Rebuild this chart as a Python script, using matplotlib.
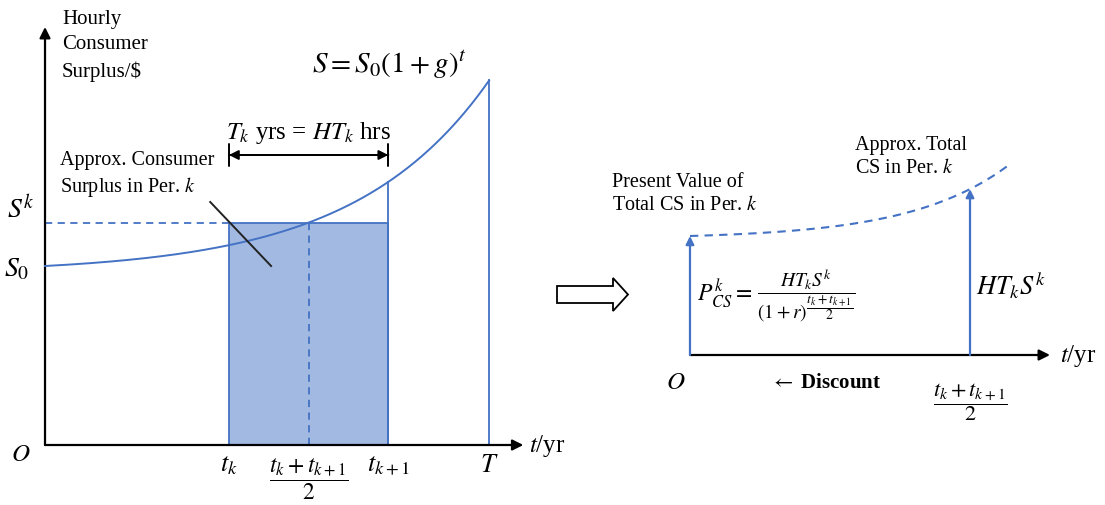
import numpy as np
import matplotlib
matplotlib.use("Agg")
import matplotlib.pyplot as plt
from matplotlib.patches import Rectangle, FancyArrow

plt.rcParams['font.family'] = ['Liberation Serif', 'DejaVu Serif']
plt.rcParams['mathtext.fontset'] = 'stix'

# left panel: hourly consumer surplus over time (years)
T_end = 10.0
t_k = 4.14
t_k1 = 7.73
t_mid = (t_k + t_k1) / 2
S0 = 1.79
growth = 0.39          # g
amp = 0.0716
x_axis_end = 10.77
y_axis_end = 4.18

# right panel: present value vs. undiscounted total
PV = 1.19
disc_growth = 0.616
disc_amp = 0.02885
curve_end = 6.78
x_axis_end2 = 7.63

BLUE = '#4472C4'
FILL = '#A2B9E2'


def surplus(t):
    return S0 + amp * ((1 + growth) ** t - 1)


def future_value(t):
    return PV + disc_amp * ((1 + disc_growth) ** t - 1)


S_k = surplus(t_mid)
HTS = future_value(t_mid)

fig = plt.figure(figsize=(11.05, 5.06), dpi=100)

# ---------------- left panel ----------------
ax1 = fig.add_axes([0, 0, 0.55, 1])
ax1.set_xlim(-1.0135, 12.67)
ax1.set_ylim(-0.6, 4.46)
ax1.axis('off')

ax1.annotate('', xy=(0, y_axis_end), xytext=(0, 0),
             arrowprops=dict(arrowstyle='-|>', color='black', lw=1.6, mutation_scale=16, shrinkA=0, shrinkB=0))
ax1.annotate('', xy=(x_axis_end, 0), xytext=(0, 0),
             arrowprops=dict(arrowstyle='-|>', color='black', lw=1.6, mutation_scale=16, shrinkA=0, shrinkB=0))

ax1.add_patch(Rectangle((t_k, 0), t_k1 - t_k, S_k, facecolor=FILL, edgecolor=BLUE, lw=1.3, zorder=1))
ax1.plot([0, t_k], [S_k, S_k], ls=(0, (4, 3)), color=BLUE, lw=1.3)
ax1.plot([t_mid, t_mid], [0, S_k], ls=(0, (4, 3)), color=BLUE, lw=1.3, zorder=2)
ax1.plot([t_k1, t_k1], [0, surplus(t_k1)], color=BLUE, lw=1.3)
ax1.plot([T_end, T_end], [0, surplus(T_end)], color=BLUE, lw=1.3)

tt = np.linspace(0, T_end, 300)
ax1.plot(tt, surplus(tt), color=BLUE, lw=1.4, zorder=3)

ax1.annotate('', xy=(t_k1, 2.90), xytext=(t_k, 2.90),
             arrowprops=dict(arrowstyle='|-|', color='black', lw=1.4, mutation_scale=8, shrinkA=0, shrinkB=0))
ax1.annotate('', xy=(t_k1, 2.90), xytext=(t_k, 2.90),
             arrowprops=dict(arrowstyle='<|-|>', color='black', lw=1.4, mutation_scale=14, shrinkA=0, shrinkB=0))
ax1.text(t_mid, 3.13, r'$T_k$ yrs = $HT_k$ hrs', ha='center', va='center', fontsize=18)

ax1.text(0.38, 4.0, 'Hourly\nConsumer\nSurplus/$', ha='left', va='center', fontsize=15, linespacing=1.45)
ax1.text(0.33, 2.71, 'Approx. Consumer\nSurplus in Per. $k$', ha='left', va='center', fontsize=14.5,
         linespacing=1.25)
ax1.plot([3.72, 5.09], [2.43, 1.79], color='#222222', lw=1.4, zorder=4)
ax1.text(7.75, 3.81, r'$S = S_0(1+g)^t$', ha='center', va='center', fontsize=21)

ax1.text(-0.22, 2.36, r'$S^k$', ha='right', va='center', fontsize=20)
ax1.text(-0.35, 1.76, r'$S_0$', ha='right', va='center', fontsize=20)
ax1.text(-0.32, -0.09, r'$O$', ha='right', va='center', fontsize=18)
ax1.text(10.9, 0.0, r'$t$/yr', ha='left', va='center', fontsize=18)

ax1.text(t_k, -0.2, r'$t_k$', ha='center', va='center', fontsize=19)
ax1.text(t_mid, -0.33, r'$\dfrac{t_k+t_{k+1}}{2}$', ha='center', va='center', fontsize=17)
ax1.text(t_k1, -0.2, r'$t_{k+1}$', ha='center', va='center', fontsize=19)
ax1.text(T_end, -0.2, r'$T$', ha='center', va='center', fontsize=19)

# hollow transition arrow
fig.add_artist(FancyArrow(557 / 1105, 1 - 295.5 / 506, 71 / 1105, 0, width=17 / 506, head_width=33 / 506,
                          head_length=15 / 1105, length_includes_head=True, facecolor='white',
                          edgecolor='black', lw=1.3, transform=fig.transFigure))

# ---------------- right panel ----------------
ax2 = fig.add_axes([0.55, 0, 0.45, 1])
ax2.set_xlim(-1.743, 8.796)
ax2.set_ylim(-1.50, 3.56)
ax2.axis('off')

ax2.annotate('', xy=(x_axis_end2, 0), xytext=(0, 0),
             arrowprops=dict(arrowstyle='-|>', color='black', lw=1.6, mutation_scale=16, shrinkA=0, shrinkB=0))
ax2.annotate('', xy=(0, PV), xytext=(0, 0),
             arrowprops=dict(arrowstyle='-|>', color=BLUE, lw=1.6, mutation_scale=12, shrinkA=0, shrinkB=0))
ax2.annotate('', xy=(t_mid, HTS), xytext=(t_mid, 0),
             arrowprops=dict(arrowstyle='-|>', color=BLUE, lw=1.6, mutation_scale=12, shrinkA=0, shrinkB=0))
tt2 = np.linspace(0, curve_end, 200)
ax2.plot(tt2, future_value(tt2), ls=(0, (4, 3)), color=BLUE, lw=1.5)

ax2.text(-1.65, 1.62, 'Present Value of\nTotal CS in Per. $k$', ha='left', va='center', fontsize=14.5,
         linespacing=1.3)
ax2.text(3.5, 1.99, 'Approx. Total\nCS in Per. $k$', ha='left', va='center', fontsize=14.5, linespacing=1.3)
ax2.text(0.15, 0.62, r'$P_{CS}^{k} =$', ha='left', va='center', fontsize=17)
ax2.text(2.46, 0.60, r'$\dfrac{HT_kS^k}{(1+r)^{\dfrac{t_k+t_{k+1}}{2}}}$', ha='center', va='center',
         fontsize=14)
ax2.text(t_mid + 0.12, 0.70, r'$HT_kS^k$', ha='left', va='center', fontsize=19)

ax2.text(-0.1, -0.27, r'$O$', ha='right', va='center', fontsize=18)
ax2.text(1.70, -0.27, r'$\leftarrow$ Discount', ha='left', va='center', fontsize=15, fontweight='bold')
ax2.text(t_mid, -0.46, r'$\dfrac{t_k+t_{k+1}}{2}$', ha='center', va='center', fontsize=16)
ax2.text(7.84, 0.0, r'$t$/yr', ha='left', va='center', fontsize=18)

fig.savefig('out.png', dpi=100)
